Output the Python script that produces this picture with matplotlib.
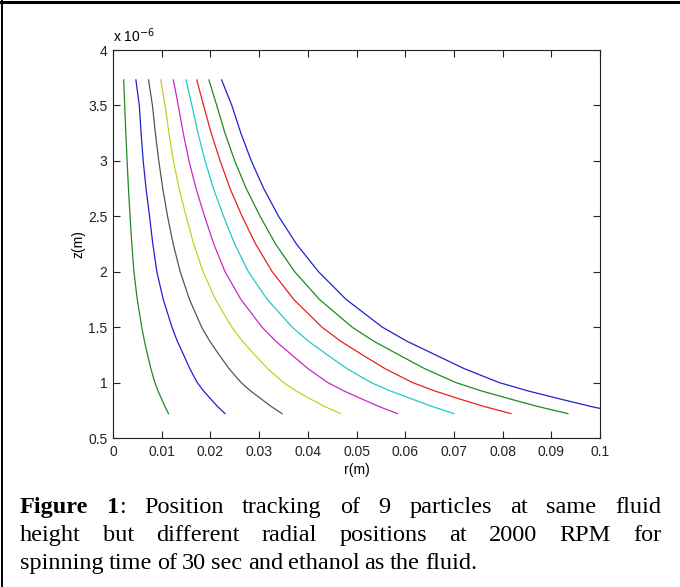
import matplotlib
matplotlib.use('Agg')
import matplotlib.pyplot as plt
from matplotlib.lines import Line2D
from matplotlib.ticker import FuncFormatter

# fluid height levels (x 1e-6 m) at which the radial positions were read
z_levels = [3.73, 3.5, 3.25, 3.0, 2.75, 2.5, 2.25, 2.0, 1.75, 1.5,
            1.375, 1.25, 1.125, 1.0, 0.925, 0.85, 0.785, 0.72]

# radial position r (m) of each particle at those heights, innermost first
r_p1 = [0.0022, 0.0024, 0.00263, 0.0029, 0.00317, 0.0035, 0.00386, 0.0043, 0.00498, 0.0059,
        0.00645, 0.0071, 0.00778, 0.0086, 0.00925, 0.0100, 0.01065, 0.0114]
r_p2 = [0.0047, 0.0054, 0.00577, 0.0062, 0.00679, 0.0075, 0.00818, 0.0090, 0.01032, 0.0121,
        0.01319, 0.0145, 0.01578, 0.0173, 0.01859, 0.0201, 0.02145, 0.0230]
r_p3 = [0.0073, 0.0081, 0.00870, 0.0094, 0.01022, 0.0112, 0.01236, 0.0138, 0.01570, 0.0182,
        0.01984, 0.0218, 0.02384, 0.0263, 0.02824, 0.0305, 0.03246, 0.0347]
r_p4 = [0.0098, 0.0107, 0.01149, 0.0124, 0.01358, 0.0150, 0.01657, 0.0185, 0.02104, 0.0244,
        0.02654, 0.0291, 0.03178, 0.0350, 0.03759, 0.0406, 0.04344, 0.0467]
r_p5 = [0.0124, 0.0134, 0.01442, 0.0156, 0.01705, 0.0188, 0.02069, 0.0230, 0.02626, 0.0306,
        0.03337, 0.0367, 0.04006, 0.0441, 0.04739, 0.0512, 0.05456, 0.0584]
r_p6 = [0.0150, 0.0162, 0.01745, 0.0189, 0.02063, 0.0227, 0.02499, 0.0278, 0.03167, 0.0368,
        0.04008, 0.0440, 0.04808, 0.0530, 0.05693, 0.0615, 0.06548, 0.0700]
r_p7 = [0.0172, 0.0186, 0.02016, 0.0220, 0.02404, 0.0265, 0.02928, 0.0327, 0.03711, 0.0429,
        0.04668, 0.0512, 0.05588, 0.0615, 0.06604, 0.0713, 0.07615, 0.0817]
r_p8 = [0.0197, 0.0213, 0.02300, 0.0250, 0.02736, 0.0302, 0.03338, 0.0373, 0.04239, 0.0491,
        0.05347, 0.0587, 0.06402, 0.0704, 0.07563, 0.0817, 0.08716, 0.0934]
r_p9 = [0.0223, 0.0244, 0.02625, 0.0284, 0.03095, 0.0340, 0.03766, 0.0422, 0.04787, 0.0553,
        0.06026, 0.0662, 0.07216, 0.0793, 0.08518, 0.0920, 0.09807, 0.1050]

particles = [r_p1, r_p2, r_p3, r_p4, r_p5, r_p6, r_p7, r_p8, r_p9]
colors = ['#1f8a1f', '#2020d0', '#555555', '#cccc22', '#c828c8',
          '#22c8c8', '#e82020', '#1f8a1f', '#2020d0']

x_ticks = [0, 0.01, 0.02, 0.03, 0.04, 0.05, 0.06, 0.07, 0.08, 0.09, 0.1]
y_ticks = [0.5, 1, 1.5, 2, 2.5, 3, 3.5, 4]

caption_lines = [
    [[("Figure", "bold")], [("1", "bold"), (":", "normal")], [("Position", "normal")],
     [("tracking", "normal")], [("of", "normal")], [("9", "normal")],
     [("particles", "normal")], [("at", "normal")], [("same", "normal")], [("fluid", "normal")]],
    [[(w, "normal")] for w in "height but different radial positions at 2000 RPM for".split()],
    [[(w, "normal")] for w in "spinning time of 30 sec and ethanol as the fluid.".split()],
]

W, H = 680, 587
fig = plt.figure(figsize=(W / 100, H / 100), dpi=100)
ax = fig.add_axes([113 / W, 1 - 438 / H, 487 / W, 388 / H])

for r, c in zip(particles, colors):
    ax.plot(r, z_levels, color=c, lw=0.9, solid_joinstyle='round')

ax.set_xlim(0, 0.1)
ax.set_ylim(0.5, 4)
ax.set_xticks(x_ticks)
ax.set_yticks(y_ticks)
ax.xaxis.set_major_formatter(FuncFormatter(lambda v, p: f'{v:g}'))
ax.yaxis.set_major_formatter(FuncFormatter(lambda v, p: f'{v:g}'))
ax.tick_params(direction='in', length=5, width=0.8, top=True, right=True,
               labelsize=10, colors='#222222')
ax.tick_params(axis='x', pad=5)
ax.tick_params(axis='y', pad=4)
for lab in ax.get_xticklabels() + ax.get_yticklabels():
    lab.set_family('Liberation Sans')
for s in ax.spines.values():
    s.set_linewidth(0.8)
    s.set_color('#222222')

ax.set_xlabel('r(m)', family='Liberation Sans', fontsize=10, labelpad=3)
ax.set_ylabel('z(m)', family='Liberation Sans', fontsize=10, labelpad=2)
fig.text(113 / W, 1 - 42 / H, r'x 10$^{-6}$', family='Liberation Sans',
         fontsize=10, va='baseline', ha='left')

# frame lines of the figure box
fig.add_artist(Line2D([0, 1], [1 - 1.5 / H, 1 - 1.5 / H], color='black', lw=2.2))
fig.add_artist(Line2D([2 / W, 2 / W], [0, 1], color='black', lw=1.4))

# justified caption (last line left aligned with tight spacing)
renderer = fig.canvas.get_renderer()
x0 = 20
line_ends = [661, 661, 477]
baselines = [513, 541, 569]
fs = 17.5
for words, yb, x1 in zip(caption_lines, baselines, line_ends):
    placed = []
    widths = []
    for word in words:
        parts = []
        w = 0
        for s, wt in word:
            t = fig.text(0, 1 - yb / H, s, family='Liberation Serif', fontsize=fs,
                         weight=wt, va='baseline', ha='left')
            parts.append((t, w))
            w += t.get_window_extent(renderer).width
        placed.append(parts)
        widths.append(w)
    gap = (x1 - x0 - sum(widths)) / (len(words) - 1)
    x = x0
    for parts, w in zip(placed, widths):
        for t, off in parts:
            t.set_x((x + off) / W)
        x += w + gap

fig.savefig('out.png', dpi=100)
